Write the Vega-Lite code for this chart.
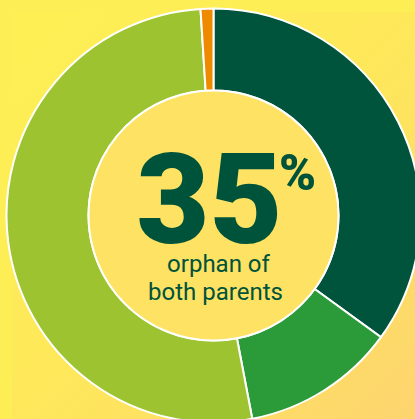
{
  "$schema": "https://vega.github.io/schema/vega-lite/v6.json",
  "width": 403,
  "height": 407,
  "autosize": {"type": "none"},
  "padding": {"left": 12, "top": 12, "right": 0, "bottom": 0},
  "background": "#FEEE55",
  "config": {"view": {"stroke": null}},
  "datasets": {
    "slices": [
      {"group": "orphan of both parents", "value": 35, "order": 1},
      {"group": "segment 2", "value": 12, "order": 2},
      {"group": "segment 3", "value": 52, "order": 3},
      {"group": "segment 4", "value": 1, "order": 4}
    ],
    "labels": [
      {"role": "big", "text": "35"},
      {"role": "pct", "text": "%"},
      {"role": "l1", "text": "orphan of"},
      {"role": "l2", "text": "both parents"}
    ]
  },
  "layer": [
    {
      "data": {"values": [{}]},
      "mark": {
        "type": "rect",
        "fill": {
          "gradient": "linear", "x1": 0, "y1": 0, "x2": 1, "y2": 1,
          "stops": [
            {"offset": 0, "color": "#FEF054"},
            {"offset": 0.5, "color": "#FEE85A"},
            {"offset": 1, "color": "#FDD46F"}
          ]
        }
      },
      "encoding": {}
    },
    {
      "data": {"name": "slices"},
      "mark": {"type": "arc", "outerRadius": 207, "innerRadius": 125, "stroke": "white", "strokeWidth": 2},
      "encoding": {
        "theta": {"field": "value", "type": "quantitative", "stack": true},
        "order": {"field": "order"},
        "color": {
          "field": "group", "type": "nominal", "legend": null,
          "scale": {
            "domain": ["orphan of both parents", "segment 2", "segment 3", "segment 4"],
            "range": ["#00543C", "#2A9B38", "#9DC430", "#EE8900"]
          }
        }
      }
    },
    {
      "data": {"values": [{}]},
      "mark": {"type": "arc", "outerRadius": 125, "innerRadius": 0, "fill": "#FDE264", "stroke": "white", "strokeWidth": 2},
      "encoding": {}
    },
    {
      "data": {"name": "labels"},
      "transform": [{"filter": "datum.role == 'big'"}],
      "mark": {"type": "text", "font": "Roboto", "fontWeight": 900, "fontSize": 126, "color": "#00533B", "baseline": "alphabetic", "align": "center", "dx": -4, "dy": 27},
      "encoding": {"text": {"field": "text"}}
    },
    {
      "data": {"name": "labels"},
      "transform": [{"filter": "datum.role == 'pct'"}],
      "mark": {"type": "text", "font": "Roboto", "fontWeight": 900, "fontSize": 50, "color": "#00533B", "baseline": "alphabetic", "align": "center", "dx": 84, "dy": -26},
      "encoding": {"text": {"field": "text"}}
    },
    {
      "data": {"name": "labels"},
      "transform": [{"filter": "datum.role == 'l1'"}],
      "mark": {"type": "text", "font": "Roboto", "fontWeight": 400, "fontSize": 24, "color": "#00533B", "baseline": "alphabetic", "align": "center", "dx": 5, "dy": 56},
      "encoding": {"text": {"field": "text"}}
    },
    {
      "data": {"name": "labels"},
      "transform": [{"filter": "datum.role == 'l2'"}],
      "mark": {"type": "text", "font": "Roboto", "fontWeight": 400, "fontSize": 24, "color": "#00533B", "baseline": "alphabetic", "align": "center", "dx": 2, "dy": 84},
      "encoding": {"text": {"field": "text"}}
    }
  ]
}
